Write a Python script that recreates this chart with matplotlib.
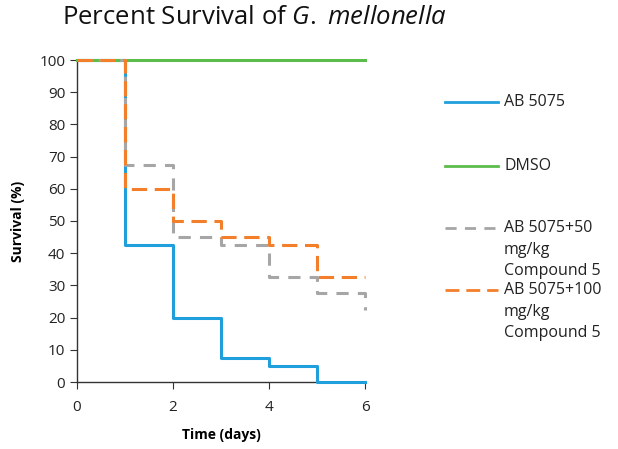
import matplotlib
matplotlib.use("Agg")
import matplotlib.pyplot as plt
from matplotlib.lines import Line2D

plt.rcParams['font.family'] = ['Open Sans', 'DejaVu Sans']
plt.rcParams['mathtext.fontset'] = 'custom'
plt.rcParams['mathtext.rm'] = 'Open Sans'
plt.rcParams['mathtext.it'] = 'Open Sans:italic'

days = [0, 1, 2, 3, 4, 5, 6]
ab5075 = [100, 42.5, 20, 7.5, 5, 0, 0]
dmso = [100, 100, 100, 100, 100, 100, 100]
ab50 = [100, 67.5, 45, 42.5, 32.5, 27.5, 22.5]
ab100 = [100, 60, 50, 45, 42.5, 32.5, 32.5]

labels = [["AB 5075"], ["DMSO"], ["AB 5075+50", "mg/kg", "Compound 5"], ["AB 5075+100", "mg/kg", "Compound 5"]]
colors = ["#1f9fdc", "#5cbd4c", "#a6a6a6", "#f47f2a"]
dashes = [None, None, (4, 3), (5, 2.5)]
xticks = [0, 2, 4, 6]
yticks = list(range(0, 101, 10))

fig = plt.figure(figsize=(6.18, 4.49), dpi=100)
ax = fig.add_axes([77/618, 1-382/449, (365-77)/618, (382-60)/449])

series = [ab5075, dmso, ab50, ab100]
for i, (vals, c, d) in enumerate(zip(series, colors, dashes)):
    ln, = ax.step(days, vals, where='post', color=c, lw=2.2, clip_on=False, zorder=3 + i)
    if d:
        ln.set_dashes(d)

ax.set_xlim(0, 6)
ax.set_ylim(0, 100)
ax.set_xticks(xticks)
ax.set_yticks(yticks)
for s in ['top', 'right']:
    ax.spines[s].set_visible(False)
for s in ['left', 'bottom']:
    ax.spines[s].set_color('#333333')
    ax.spines[s].set_linewidth(1.0)
ax.tick_params(direction='out', length=5, color='#333333', labelsize=11, labelcolor='#222222')
ax.tick_params(axis='x', pad=8)
ax.set_xlabel("Time (days)", fontweight='bold', fontsize=10, labelpad=9)
ax.set_ylabel("Survival (%)", fontweight='bold', fontsize=10, labelpad=10)

fig.text(254/618, 1-17/449, "Percent Survival of $\\mathit{G.}$ $\\mathit{mellonella}$", ha='center', va='center', fontsize=18.5, color='#111111')

# legend
leg_y = [102, 166, 228, 290]
for lines, c, d, y in zip(labels, colors, dashes, leg_y):
    yf = 1 - y/449
    ln = Line2D([445/618, 498/618], [yf, yf], transform=fig.transFigure, color=c, lw=2)
    if d:
        ln.set_dashes(d)
    fig.add_artist(ln)
    for k, t in enumerate(lines):
        fig.text(504/618, 1 - (y + k*21.5)/449, t, ha='left', va='center', fontsize=11.5, color='#222222')

fig.savefig("out.png", dpi=100)
